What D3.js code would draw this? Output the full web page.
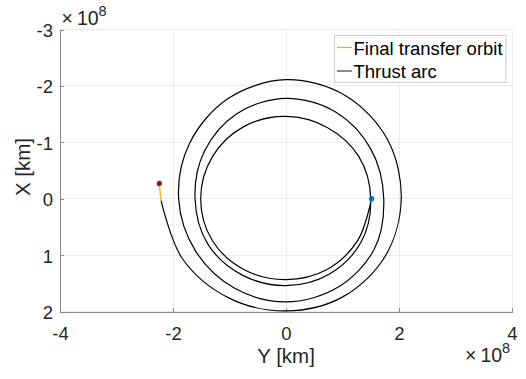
<!DOCTYPE html>
<html>
<head>
<meta charset="utf-8">
<script src="https://cdn.jsdelivr.net/npm/d3@7"></script>
<style>
  html, body { margin: 0; padding: 0; background: #fff; }
  svg { display: block; font-family: "Liberation Sans", Arial, Helvetica, sans-serif; }
</style>
</head>
<body>
<svg id="chart" width="526" height="379"></svg>
<script>
// Heliocentric trajectory, coordinates in units of 1e8 km.
// Horizontal axis: Y, vertical axis: X (reversed, negative up).
const xTicks = [-4, -2, 0, 2, 4];
const yTicks = [-3, -2, -1, 0, 1, 2];

// Thrust arc: spiral sampled along the path (Y, X pairs)
const thrustY = [
  1.515, 1.273, 0.725, 0.000, -0.730, -1.299, -1.510, -1.299, -0.740, 0.000, 0.730, 1.290,
  1.500, 1.329, 0.770, 0.000, -0.780, -1.386, -1.610, -1.446, -0.870, 0.000, 0.885, 1.507,
  1.730, 1.559, 0.910, 0.000, -0.915, -1.602, -1.900, -1.706, -1.025, 0.000, 1.055, 1.801,
  2.040, 1.758, 1.005, 0.000, -1.015, -1.836, -2.210
];
const thrustX = [
  0.000, 0.735, 1.256, 1.435, 1.264, 0.750, 0.000, -0.750, -1.282, -1.460, -1.264, -0.745,
  0.000, 0.768, 1.334, 1.540, 1.351, 0.800, 0.000, -0.835, -1.507, -1.780, -1.533, -0.870,
  0.000, 0.900, 1.576, 1.830, 1.585, 0.925, 0.000, -0.985, -1.775, -2.110, -1.827, -1.040,
  0.000, 1.015, 1.741, 1.990, 1.758, 1.060, 0.040
];

// Final transfer orbit (short coast segment)
const transferY = [-2.210, -2.228, -2.242];
const transferX = [0.040, -0.120, -0.271];

// Departure and arrival markers
const departure = { y: 1.515, x: 0.0 };
const arrival = { y: -2.242, x: -0.271 };

const legendLabels = ["Final transfer orbit", "Thrust arc"];
const colors = { transfer: "#EDB120", thrust: "#000000", dep: "#0072BD", arr: "#A2142F" };

const svg = d3.select("#chart");
const plotL = 60, plotR = 512, plotT = 29.5, plotB = 311.5;

const xs = d3.scaleLinear().domain([-4, 4]).range([plotL, plotR]);
const ys = d3.scaleLinear().domain([-3, 2]).range([plotT, plotB]);

// Grid
const grid = svg.append("g");
grid.selectAll(".gx").data(xTicks).enter().append("line")
  .attr("x1", d => xs(d)).attr("x2", d => xs(d))
  .attr("y1", plotT).attr("y2", plotB)
  .attr("stroke", "#ebebeb").attr("stroke-width", 1).attr("shape-rendering", "crispEdges");
grid.selectAll(".gy").data(yTicks).enter().append("line")
  .attr("x1", plotL).attr("x2", plotR)
  .attr("y1", d => ys(d)).attr("y2", d => ys(d))
  .attr("stroke", "#ebebeb").attr("stroke-width", 1).attr("shape-rendering", "crispEdges");

// Axes (ticks drawn inward)
const xAxis = d3.axisBottom(xs).tickValues(xTicks).tickSizeInner(-4).tickSizeOuter(0).tickPadding(15)
  .tickFormat(d3.format("d"));
const yAxis = d3.axisLeft(ys).tickValues(yTicks).tickSizeInner(-4).tickSizeOuter(0).tickPadding(7)
  .tickFormat(d3.format("d"));

const gx = svg.append("g").attr("transform", `translate(0,${plotB})`).call(xAxis);
const gy = svg.append("g").attr("transform", `translate(${plotL},0)`).call(yAxis);
[gx, gy].forEach(g => {
  g.select(".domain").attr("stroke", "#8a8a8a").attr("stroke-width", 1).attr("shape-rendering", "crispEdges");
  g.selectAll(".tick line").attr("stroke", "#8a8a8a").attr("shape-rendering", "crispEdges");
  g.selectAll(".tick text").attr("fill", "#262626").attr("font-size", 18.5)
    .attr("font-family", "'Liberation Sans', Arial, sans-serif")
    .text(d => d < 0 ? "-" + Math.abs(d) : String(d));
});
gx.selectAll(".tick text").attr("dy", "0.71em");
gy.selectAll(".tick text").attr("dy", "0.38em");

// Axis labels
svg.append("text").attr("x", (plotL + plotR) / 2).attr("y", 363)
  .attr("text-anchor", "middle").attr("font-size", 20.5).attr("fill", "#262626").text("Y [km]");
svg.append("text").attr("transform", `translate(30,167) rotate(-90)`)
  .attr("text-anchor", "middle").attr("font-size", 20.5).attr("fill", "#262626").text("X [km]");

// Exponent labels
function exponent(x, y) {
  const t = svg.append("text").attr("x", x).attr("y", y).attr("font-size", 19.5).attr("fill", "#262626");
  t.append("tspan").text("\u00d7");
  t.append("tspan").attr("dx", 4).text("10");
  t.append("tspan").attr("dy", -9).attr("font-size", 14.5).text("8");
}
exponent(61.5, 25);
exponent(465, 362);

// Trajectories
const line = d3.line().x(d => xs(d[0])).y(d => ys(d[1])).curve(d3.curveCatmullRom.alpha(0.5));
const thrustPts = thrustY.map((v, i) => [v, thrustX[i]]);
const transferPts = transferY.map((v, i) => [v, transferX[i]]);

svg.append("path").datum(thrustPts).attr("d", line)
  .attr("fill", "none").attr("stroke", colors.thrust).attr("stroke-width", 1.2);
svg.append("path").datum(transferPts).attr("d", line)
  .attr("fill", "none").attr("stroke", colors.transfer).attr("stroke-width", 1.4);

// Markers
svg.append("circle").attr("cx", xs(departure.y)).attr("cy", ys(departure.x)).attr("r", 2.6).attr("fill", colors.dep);
svg.append("circle").attr("cx", xs(arrival.y)).attr("cy", ys(arrival.x)).attr("r", 2.6).attr("fill", colors.arr);

// Legend
const lg = svg.append("g");
lg.append("rect").attr("x", 334.5).attr("y", 35.5).attr("width", 171.5).attr("height", 47)
  .attr("fill", "#fff").attr("stroke", "#cccccc").attr("stroke-width", 1);
const legendColors = [colors.transfer, "#3a3a3a"];
legendLabels.forEach((lab, i) => {
  const cy = 47.5 + i * 23.5;
  lg.append("line").attr("x1", 337).attr("x2", 352).attr("y1", cy).attr("y2", cy)
    .attr("stroke", legendColors[i]).attr("stroke-width", 1.2);
  lg.append("text").attr("x", 353.5).attr("y", cy + 7).attr("font-size", 18.5).attr("fill", "#000").text(lab);
});
</script>
</body>
</html>
